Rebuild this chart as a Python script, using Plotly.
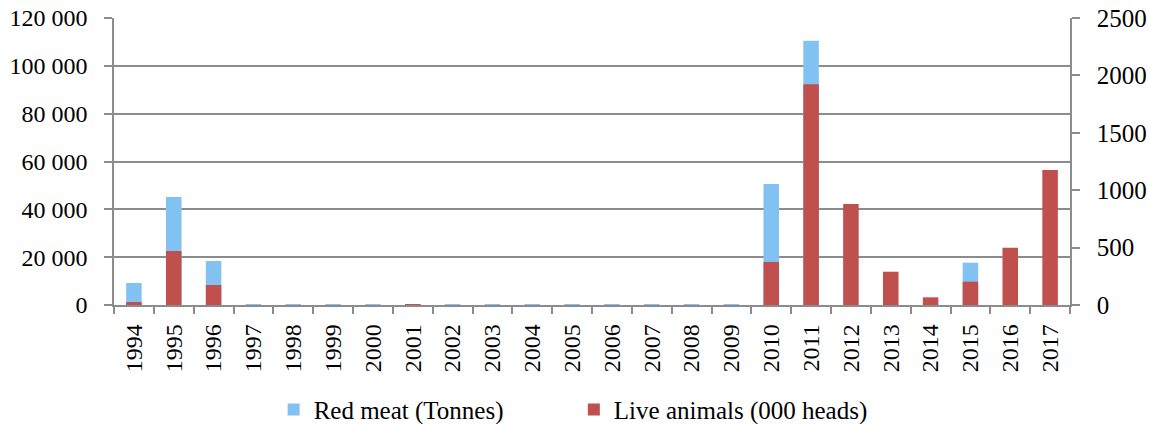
import plotly.graph_objects as go

years = [str(y) for y in range(1994, 2018)]
red_meat_tonnes = [9200, 45200, 18400, 300, 150, 250, 250, 150, 200, 200, 150, 150, 100, 100, 100, 150,
                   50600, 110500, 0, 0, 0, 17700, 0, 0]
live_animals_000 = [26, 470, 174, 0, 0, 0, 0, 1, 0, 0, 0, 0, 0, 0, 0, 0,
                    375, 1922, 880, 290, 67, 203, 499, 1176]

left_ticks = [0, 20000, 40000, 60000, 80000, 100000, 120000]
left_labels = ["0", "20 000", "40 000", "60 000", "80 000", "100 000", "120 000"]
right_ticks = [0, 500, 1000, 1500, 2000, 2500]
right_labels = ["0", "500", "1000", "1500", "2000", "2500"]

FONT = "Liberation Serif"
FS = 24
GRID = "#8c8c8c"

fig = go.Figure()
fig.add_trace(go.Bar(x=years, y=red_meat_tonnes, name="Red meat (Tonnes)",
                     marker=dict(color="#82C2F2", line=dict(width=0)), width=0.39,
                     yaxis="y", legend="legend"))
fig.add_trace(go.Bar(x=years, y=live_animals_000, name="Live animals (000 heads)",
                     marker=dict(color="#C0504D", line=dict(width=0)), width=0.39,
                     yaxis="y2", legend="legend2"))

leg_common = dict(orientation="h", xanchor="left", y=-0.365, yanchor="middle",
                  font=dict(size=25, family=FONT), bgcolor="rgba(0,0,0,0)")

fig.update_layout(
    width=1149, height=424,
    margin=dict(l=114, r=79, t=18, b=119, autoexpand=False),
    paper_bgcolor="white", plot_bgcolor="white",
    barmode="overlay",
    font=dict(family=FONT, size=FS, color="black"),
    showlegend=True,
    legend=dict(x=0.167, **leg_common),
    legend2=dict(x=0.481, **leg_common),
    xaxis=dict(type="category", showline=True, linecolor=GRID, linewidth=1.5,
               ticks="outside", ticklen=7, tickcolor=GRID, tickwidth=1.5,
               tickson="boundaries", tickangle=-90, showgrid=False,
               ticklabelstandoff=8, tickfont=dict(size=FS, family=FONT)),
    yaxis=dict(range=[0, 120000], tickvals=left_ticks, ticktext=left_labels,
               showline=True, linecolor=GRID, linewidth=1.5, ticks="outside", ticklen=8,
               tickcolor=GRID, tickwidth=1.5, showgrid=True, gridcolor=GRID, gridwidth=1.5,
               zeroline=False, ticklabelstandoff=12, tickfont=dict(size=FS, family=FONT)),
    yaxis2=dict(range=[0, 2500], tickvals=right_ticks, ticktext=right_labels,
                overlaying="y", side="right", showline=True, linecolor=GRID, linewidth=1.5,
                ticks="outside", ticklen=8, tickcolor=GRID, tickwidth=1.5,
                showgrid=False, zeroline=False, ticklabelstandoff=12,
                tickfont=dict(size=25, family=FONT)),
)

fig.write_html("out.html")
